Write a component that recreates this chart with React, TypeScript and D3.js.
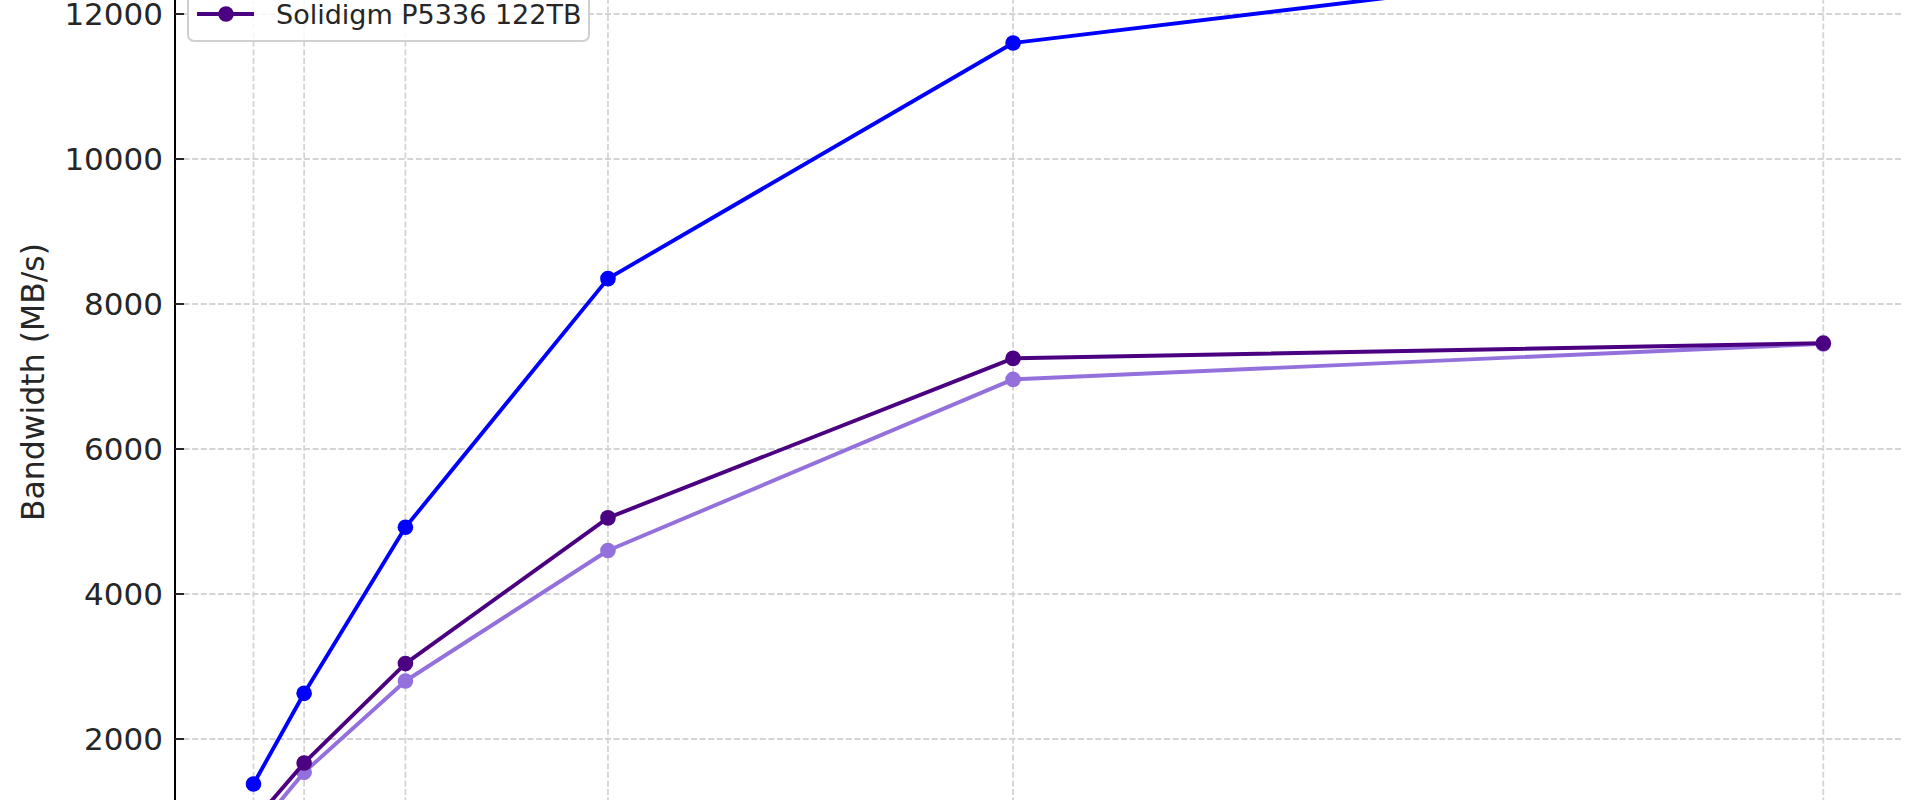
import React from "react";
import * as d3 from "d3";

const queueDepths = [1, 2, 4, 8, 16, 32];
const seriesNames = ["Micron 6500 ION 30.72TB", "Solidigm P5336 61.44TB", "Solidigm P5336 122TB"];
const seriesColors = ["#0000ff", "#9370db", "#4b0082"];
const blueValues = [1380, 2630, 4920, 8350, 11600, 12950];
const lightPurpleValues = [700, 1540, 2800, 4600, 6960, 7450];
const indigoValues = [860, 1670, 3040, 5050, 7250, 7460];
const yTicks = [2000, 4000, 6000, 8000, 10000, 12000];
const gridYTicks = [0, 2000, 4000, 6000, 8000, 10000, 12000, 14000];
const yLabel = "Bandwidth (MB/s)";

const W = 1920;
const H = 800;
const FONT = "'DejaVu Sans', sans-serif";

export default function App() {
  const x = d3.scaleLinear().domain([1, 32]).range([253.5, 1823.3]);
  const y = d3.scaleLinear().domain([2000, 12000]).range([739, 14]);
  const axisLeft = x(-0.55);
  const axisRight = x(33.55);
  const series = [blueValues, lightPurpleValues, indigoValues];
  const line = d3
    .line<number>()
    .x((_, i) => x(queueDepths[i]))
    .y((d) => y(d));

  const legendRowY = [14 - 90, 14 - 45, 14];
  const legendLeft = 188;
  const legendRight = 589;
  const legendTop = -103;
  const legendBottom = 41;

  return (
    <svg
      width={W}
      height={H}
      style={{ position: "fixed", left: 0, top: 0, background: "#ffffff" }}
      fontFamily={FONT}
    >
      <rect x={0} y={0} width={W} height={H} fill="#ffffff" />
      {/* vertical grid */}
      {queueDepths.map((q) => (
        <line
          key={"vg" + q}
          x1={x(q)}
          x2={x(q)}
          y1={-200}
          y2={H + 200}
          stroke="#d4d4d4"
          strokeWidth={1.8}
          strokeDasharray="6 2.6"
        />
      ))}
      {/* horizontal grid */}
      {gridYTicks.map((t) => (
        <line
          key={"hg" + t}
          x1={axisLeft}
          x2={axisRight}
          y1={y(t)}
          y2={y(t)}
          stroke="#d4d4d4"
          strokeWidth={1.8}
          strokeDasharray="6 2.6"
        />
      ))}
      {/* y axis spine */}
      <line x1={axisLeft} x2={axisLeft} y1={-200} y2={H + 200} stroke="#000000" strokeWidth={2} />
      {yTicks.map((t) => (
        <g key={"yt" + t}>
          <line x1={axisLeft} x2={axisLeft + 9} y1={y(t)} y2={y(t)} stroke="#262626" strokeWidth={2} />
          <text
            x={axisLeft - 12}
            y={y(t)}
            textAnchor="end"
            dominantBaseline="central"
            fontSize={31}
            fill="#262626"
          >
            {t}
          </text>
        </g>
      ))}
      <text
        transform={`translate(33, 382) rotate(-90)`}
        textAnchor="middle"
        dominantBaseline="central"
        fontSize={31.5}
        fill="#262626"
      >
        {yLabel}
      </text>
      {/* series */}
      {series.map((vals, si) => (
        <g key={"s" + si}>
          <path
            d={line(vals) || ""}
            fill="none"
            stroke={seriesColors[si]}
            strokeWidth={3.9}
            strokeLinejoin="round"
            strokeLinecap="round"
          />
          {vals.map((v, i) => (
            <circle key={i} cx={x(queueDepths[i])} cy={y(v)} r={7.8} fill={seriesColors[si]} />
          ))}
        </g>
      ))}
      {/* legend (only the last entry falls inside the visible area) */}
      <rect
        x={legendLeft}
        y={legendTop}
        width={legendRight - legendLeft}
        height={legendBottom - legendTop}
        rx={6}
        ry={6}
        fill="#ffffff"
        fillOpacity={0.8}
        stroke="#d0d0d0"
        strokeWidth={2}
      />
      {seriesNames.map((name, i) => (
        <g key={"lg" + i}>
          <line
            x1={197}
            x2={254}
            y1={legendRowY[i]}
            y2={legendRowY[i]}
            stroke={seriesColors[i]}
            strokeWidth={3.9}
          />
          <circle cx={226} cy={legendRowY[i]} r={7.8} fill={seriesColors[i]} />
          {legendRowY[i] > 0 && (
            <text x={276} y={legendRowY[i]} dominantBaseline="central" fontSize={27} fill="#262626">
              {name}
            </text>
          )}
        </g>
      ))}
    </svg>
  );
}
